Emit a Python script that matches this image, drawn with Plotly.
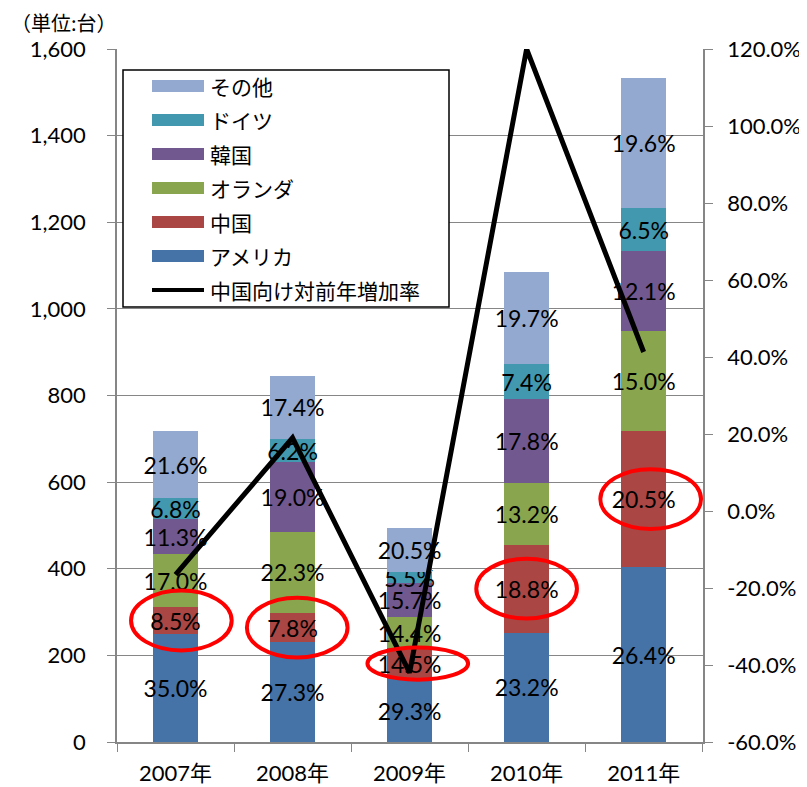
import plotly.graph_objects as go

years = ["2007年", "2008年", "2009年", "2010年", "2011年"]

usa = [250, 231, 145, 252, 404]
china = [61, 66, 72, 204, 314]
netherlands = [122, 189, 71, 143, 230]
korea = [81, 161, 78, 193, 185]
germany = [49, 52, 27, 80, 100]
others = [154, 147, 101, 213, 301]

usa_lbl = ["35.0%", "27.3%", "29.3%", "23.2%", "26.4%"]
china_lbl = ["8.5%", "7.8%", "14.5%", "18.8%", "20.5%"]
nl_lbl = ["17.0%", "22.3%", "14.4%", "13.2%", "15.0%"]
korea_lbl = ["11.3%", "19.0%", "15.7%", "17.8%", "12.1%"]
germany_lbl = ["6.8%", "6.2%", "5.5%", "7.4%", "6.5%"]
others_lbl = ["21.6%", "17.4%", "20.5%", "19.7%", "19.6%"]

china_growth = [-0.165, 0.19, -0.42, 1.20, 0.413]
growth_name = "中国向け対前年増加率"

right_tickvals = [-0.6, -0.4, -0.2, 0.0, 0.2, 0.4, 0.6, 0.8, 1.0, 1.2]
right_ticktext = ["-60.0%", "-40.0%", "-20.0%", "0.0%", "20.0%", "40.0%",
                  "60.0%", "80.0%", "100.0%", "120.0%"]

series = [
    ("アメリカ", usa, usa_lbl, "#4572A7"),
    ("中国", china, china_lbl, "#AA4643"),
    ("オランダ", netherlands, nl_lbl, "#89A54E"),
    ("韓国", korea, korea_lbl, "#71588F"),
    ("ドイツ", germany, germany_lbl, "#4198AF"),
    ("その他", others, others_lbl, "#93A9CF"),
]

LAT = "Lato, 'Noto Sans CJK JP', sans-serif"
CJK = "'Noto Sans CJK JP', sans-serif"

fig = go.Figure()
for name, vals, lbl, col in series:
    fig.add_trace(go.Bar(
        x=years, y=vals, name=name, marker=dict(color=col, line=dict(width=0)),
        text=lbl, textposition="inside", insidetextanchor="middle",
        textangle=0, constraintext="none", cliponaxis=False,
        textfont=dict(family=LAT, size=23, color="black"),
        showlegend=False,
    ))

fig.add_trace(go.Scatter(
    x=years, y=china_growth, yaxis="y2", mode="lines",
    line=dict(color="black", width=5), cliponaxis=False,
    showlegend=False, name=growth_name,
))

# red ellipses around the China labels
ell_h = [138, 138, 74, 138, 138]
ell_dx = [0.05, 0.04, 0.07, 0.0, 0.06]
for i in range(len(years)):
    yc = usa[i] + china[i] / 2
    fig.add_shape(type="circle", xref="x", yref="y",
                  x0=i - 0.43 + ell_dx[i], x1=i + 0.43 + ell_dx[i],
                  y0=yc - ell_h[i] / 2, y1=yc + ell_h[i] / 2,
                  line=dict(color="#FF0000", width=4), layer="above")

# ---- legend box (drawn in paper coordinates) ----
PX0, PW, PY0, PH = 117.0, 586.0, 742.0, 693.0  # plot area in page pixels


def px(xp):
    return (xp - PX0) / PW


def py(yp):
    return (PY0 - yp) / PH


fig.add_shape(type="rect", xref="paper", yref="paper",
              x0=px(123), x1=px(449), y0=py(307), y1=py(70),
              fillcolor="white", line=dict(color="black", width=1.5), layer="above")

legend_items = [(n, c, 12) for n, _, _, c in reversed(series)] + [(growth_name, "black", 4)]
row_y = [86, 120, 154, 188, 222, 256, 290]
for (name, col, th), yy in zip(legend_items, row_y):
    if th > 5:
        fig.add_shape(type="rect", xref="paper", yref="paper",
                      x0=px(152), x1=px(204), y0=py(yy + th / 2), y1=py(yy - th / 2),
                      fillcolor=col, line=dict(width=0), layer="above")
    else:
        fig.add_shape(type="line", xref="paper", yref="paper",
                      x0=px(152), x1=px(204), y0=py(yy), y1=py(yy),
                      line=dict(color=col, width=th), layer="above")
    fig.add_annotation(text=name, xref="paper", yref="paper", x=px(208), y=py(yy),
                       xanchor="left", yanchor="middle", showarrow=False,
                       font=dict(family=CJK, size=21, color="black"))

fig.add_annotation(text="（単位:台）", xref="paper", yref="paper",
                   x=px(9), y=py(22), xanchor="left", yanchor="middle",
                   showarrow=False, font=dict(family=CJK, size=20, color="black"))

axis_col = "#868686"
fig.update_layout(
    width=799, height=779,
    margin=dict(l=109, r=104, t=41, b=45, autoexpand=False),
    paper_bgcolor="white", plot_bgcolor="white",
    barmode="stack", bargap=0.61,
    font=dict(family=LAT, color="black"),
    showlegend=False,
    xaxis=dict(type="category", showline=True, linecolor=axis_col, linewidth=1.5,
               ticks="outside", tickson="boundaries", ticklen=8, tickcolor=axis_col,
               tickfont=dict(family=LAT, size=22), showgrid=False, fixedrange=True,
               ticklabelstandoff=11, automargin=False),
    yaxis=dict(range=[0, 1600], dtick=200, tickformat=",d", showline=True,
               linecolor=axis_col, linewidth=1.5, ticks="outside", ticklen=8,
               tickcolor=axis_col, showgrid=True, gridcolor=axis_col, gridwidth=1,
               tickfont=dict(family=LAT, size=22), ticklabelstandoff=17,
               zeroline=False, automargin=False),
    yaxis2=dict(range=[-0.6, 1.2], tickmode="array", tickvals=right_tickvals,
                ticktext=right_ticktext, overlaying="y",
                side="right", showline=True, linecolor=axis_col, linewidth=1.5,
                ticks="outside", ticklen=8, tickcolor=axis_col, showgrid=False,
                zeroline=False, tickfont=dict(family=LAT, size=22),
                ticklabelstandoff=10, automargin=False),
)

fig.write_html("out.html")
